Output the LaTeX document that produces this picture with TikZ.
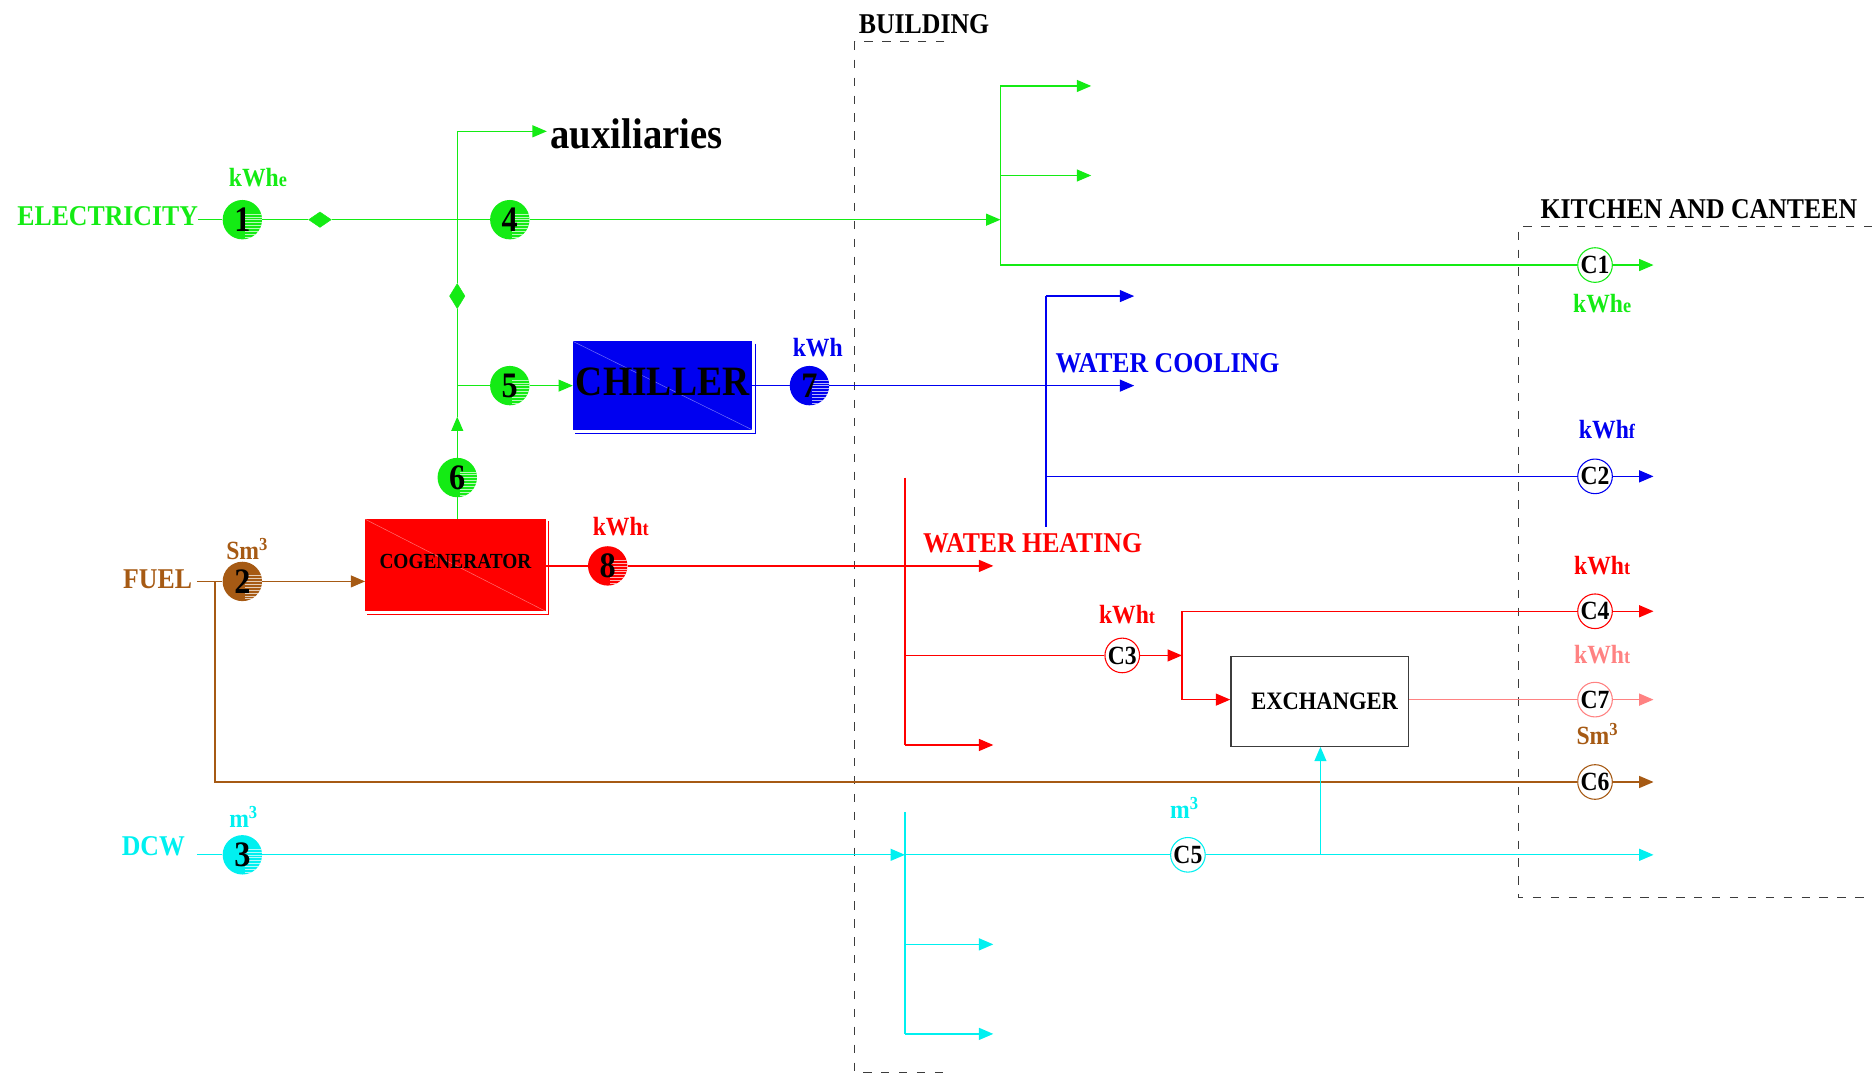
\documentclass[tikz,border=0pt]{standalone}
\usepackage{fontspec}
\setmainfont{Liberation Serif}[FakeStretch=0.9]
\usetikzlibrary{arrows.meta,shapes.geometric,calc}

\definecolor{elgreen}{RGB}{20,235,20}
\definecolor{cwblue}{RGB}{0,0,240}
\definecolor{hwred}{RGB}{255,0,0}
\definecolor{fuelbrown}{RGB}{166,90,20}
\definecolor{dcwcyan}{RGB}{0,240,240}
\definecolor{hwpink}{RGB}{255,130,130}
\definecolor{framegrey}{RGB}{60,60,60}

% smaller suffix of a unit (kWh_e, kWh_t, kWh_f)
\newcommand\usub[1]{{\fontsize{17}{17}\selectfont #1}}

\begin{document}
\begin{tikzpicture}[x=1pt,y=-1pt,
  fs/.style={font=\fontsize{#1}{#1}\selectfont\bfseries},
  flow/.style={line width=1.1pt},
  tip/.style={-{Triangle[length=12pt,width=10pt]}},
  frameline/.style={draw=framegrey,line width=0.9pt,dash pattern=on 7pt off 8pt},
  lab/.style={inner sep=0pt,fs=24},
  unitlab/.style={inner sep=0pt,fs=22},
  numc/.style={circle,minimum size=33pt,inner sep=0pt,fs=30,text=black,
    path picture={\foreach \k in {0,...,9}{
      \draw[white,opacity=0.7,line width=0.4pt]
        ([xshift=2pt,yshift={(2-\k)*2.4pt}]path picture bounding box.center) -- ++(18pt,0);}}},
  cnode/.style={circle,minimum size=29pt,inner sep=0pt,fill=white,line width=0.9pt,fs=22,text=black},
  unitbox/.style={rectangle,inner sep=0pt,text=black,
    path picture={\draw[white,opacity=0.45,line width=0.4pt]
      (path picture bounding box.north west) -- (path picture bounding box.south east);}},
  gdia/.style={diamond,fill=elgreen,draw=elgreen,inner sep=0pt,minimum width=#1}
]
\useasboundingbox (0,0) rectangle (1568,899);

% ---------- building and kitchen outlines ----------
\draw[frameline] (791,35) -- (716,35) -- (716,898) -- (791,898);
\node[lab] (building) at (774,20) {BUILDING};
\draw[frameline] (1568,190) -- (1272,190) -- (1272,752) -- (1568,752);
\node[lab] (kitchen) at (1423,175) {KITCHEN AND CANTEEN};

% ---------- units ----------
\node[unitbox,fill=cwblue,minimum width=150pt,minimum height=74pt,fs=35] (chiller) at (555,323) {\raisebox{6pt}{CHILLER}};
\draw[cwblue,line width=0.8pt] ([xshift=2.5pt,yshift=-2pt]chiller.north east) -- ([xshift=2.5pt,yshift=-2.5pt]chiller.south east) -- ([xshift=2pt,yshift=-2.5pt]chiller.south west);
\node[unitbox,fill=hwred,minimum width=151pt,minimum height=77pt,fs=18] (cogen) at (381.5,473.5) {\raisebox{6pt}{COGENERATOR}};
\draw[hwred,line width=0.8pt] ([xshift=2.5pt,yshift=-2pt]cogen.north east) -- ([xshift=2.5pt,yshift=-2.5pt]cogen.south east) -- ([xshift=2pt,yshift=-2.5pt]cogen.south west);
\node[rectangle,draw=framegrey,fill=white,line width=1.1pt,minimum width=149pt,minimum height=75pt,fs=21] (exch) at (1105.5,587.5) {\hspace*{8pt}EXCHANGER};

% ---------- electricity ----------
\node[lab,text=elgreen,anchor=east] (elec) at (166,181) {ELECTRICITY};
\coordinate (eIn) at (166,184);
\node[numc,fill=elgreen] (n1) at (203,184) {1};
\node[unitlab,text=elgreen] (u1) at (216,149) {kWh\usub{e}};
\node[gdia=19pt,minimum height=13pt] (d1) at (268,184) {};
\coordinate (j1) at (383,184);
\node[numc,fill=elgreen] (n4) at (427,184) {4};
\coordinate (jE) at (838,184);
\draw[flow,elgreen] (eIn) -- (n1) -- (d1) -- (j1) -- (n4);
\draw[flow,elgreen,tip] (n4) -- (jE);

\coordinate (eTop) at (838,72);
\coordinate (eMid) at (838,147);
\coordinate (eBot) at (838,222);
\coordinate (eA1) at (914,72);
\coordinate (eA2) at (914,147);
\draw[flow,elgreen] (eTop) -- (eBot);
\draw[flow,elgreen,tip] (eTop) -- (eA1);
\draw[flow,elgreen,tip] (eMid) -- (eA2);
\node[cnode,draw=elgreen] (c1) at (1336,222) {C1};
\coordinate (c1out) at (1385,222);
\draw[flow,elgreen] (eBot) -- (c1);
\draw[flow,elgreen,tip] (c1) -- (c1out);
\node[unitlab,text=elgreen] (u1k) at (1342,254) {kWh\usub{e}};

% auxiliaries and the cogenerator's electric output
\coordinate (auxC) at (383,110);
\coordinate (auxT) at (458,110);
\node[fs=36,anchor=west,inner sep=0pt] (aux) at (461,112) {auxiliaries};
\node[gdia=13pt,minimum height=21pt] (d2) at (383,248) {};
\coordinate (j5) at (383,323);
\coordinate (upTip) at (383,349);
\node[numc,fill=elgreen] (n6) at (383,400) {6};
\draw[flow,elgreen] (n6 |- cogen.north) -- (n6);
\draw[flow,elgreen,tip] (n6) -- (upTip);
\draw[flow,elgreen] (upTip) -- (j5) -- (d2) -- (j1) -- (auxC);
\draw[flow,elgreen,tip] (auxC) -- (auxT);
\node[numc,fill=elgreen] (n5) at (427,323) {5};
\draw[flow,elgreen] (j5) -- (n5);
\draw[flow,elgreen,tip] (n5) -- (chiller.west);

% ---------- water cooling ----------
\node[numc,fill=cwblue] (n7) at (678,323) {7};
\node[unitlab,text=cwblue] (u7) at (685,291) {kWh};
\coordinate (wc1) at (950,323);
\draw[flow,cwblue] (chiller.east) -- (n7);
\draw[flow,cwblue,tip] (n7) -- (wc1);
\coordinate (vbT) at (876,248);
\coordinate (vbM) at (876,399);
\coordinate (vbB) at (876,441);
\coordinate (wc2) at (950,248);
\draw[flow,cwblue] (vbT) -- (vbB);
\draw[flow,cwblue,tip] (vbT) -- (wc2);
\node[cnode,draw=cwblue] (c2) at (1336,399) {C2};
\coordinate (c2out) at (1385,399);
\draw[flow,cwblue] (vbM) -- (c2);
\draw[flow,cwblue,tip] (c2) -- (c2out);
\node[lab,text=cwblue,anchor=west] (wcool) at (884,304) {WATER COOLING};
\node[unitlab,text=cwblue] (u2) at (1346,360) {kWh\usub{f}};

% ---------- water heating ----------
\node[numc,fill=hwred] (n8) at (509,474) {8};
\node[unitlab,text=hwred] (u8) at (520,441) {kWh\usub{t}};
\coordinate (hw1) at (832,474);
\draw[flow,hwred] (cogen.east |- n8) -- (n8);
\draw[flow,hwred,tip] (n8) -- (hw1);
\coordinate (vrT) at (758,400);
\coordinate (vrM) at (758,549);
\coordinate (vrB) at (758,624);
\coordinate (hw3) at (832,624);
\draw[flow,hwred] (vrT) -- (vrB);
\draw[flow,hwred,tip] (vrB) -- (hw3);
\node[cnode,draw=hwred] (c3) at (940,549) {C3};
\coordinate (jx) at (990,549);
\coordinate (jxT) at (990,512);
\coordinate (jxB) at (990,586);
\draw[flow,hwred] (vrM) -- (c3);
\draw[flow,hwred,tip] (c3) -- (jx);
\draw[flow,hwred] (jxT) -- (jxB);
\node[cnode,draw=hwred] (c4) at (1336,512) {C4};
\coordinate (c4out) at (1385,512);
\draw[flow,hwred] (jxT) -- (c4);
\draw[flow,hwred,tip] (c4) -- (c4out);
\draw[flow,hwred,tip] (jxB) -- (exch.west |- jxB);
\node[lab,text=hwred,anchor=west] (wheat) at (773,455) {WATER HEATING};
\node[unitlab,text=hwred] (u3) at (944,515) {kWh\usub{t}};
\node[unitlab,text=hwred] (u4) at (1342,474) {kWh\usub{t}};

\node[cnode,draw=hwpink] (c7) at (1336,586) {C7};
\coordinate (c7out) at (1385,586);
\draw[flow,hwpink] (exch.east |- c7) -- (c7);
\draw[flow,hwpink,tip] (c7) -- (c7out);
\node[unitlab,text=hwpink] (u7k) at (1342,548) {kWh\usub{t}};

% ---------- fuel ----------
\node[lab,text=fuelbrown,anchor=east] (fuel) at (161,485) {FUEL};
\coordinate (fIn) at (165,487);
\coordinate (fj) at (180,487);
\node[numc,fill=fuelbrown] (n2) at (203,487) {2};
\node[unitlab,text=fuelbrown] (u2s) at (207,460) {Sm\textsuperscript{3}};
\draw[flow,fuelbrown] (fIn) -- (fj) -- (n2);
\draw[flow,fuelbrown,tip] (n2) -- (cogen.west |- n2);
\coordinate (fB) at (180,655);
\node[cnode,draw=fuelbrown] (c6) at (1336,655) {C6};
\coordinate (c6out) at (1385,655);
\draw[flow,fuelbrown] (fj) -- (fB) -- (c6);
\draw[flow,fuelbrown,tip] (c6) -- (c6out);
\node[unitlab,text=fuelbrown] (u6) at (1338,615) {Sm\textsuperscript{3}};

% ---------- domestic cold water ----------
\node[lab,text=dcwcyan,anchor=east] (dcw) at (155,709) {DCW};
\coordinate (dIn) at (165,716);
\node[numc,fill=dcwcyan] (n3) at (203,716) {3};
\node[unitlab,text=dcwcyan] (u3m) at (204,684) {m\textsuperscript{3}};
\coordinate (dj) at (758,716);
\draw[flow,dcwcyan] (dIn) -- (n3);
\draw[flow,dcwcyan,tip] (n3) -- (dj);
\node[cnode,draw=dcwcyan] (c5) at (995,716) {C5};
\node[unitlab,text=dcwcyan] (u5) at (992,677) {m\textsuperscript{3}};
\coordinate (dx) at (1106,716);
\coordinate (dOut) at (1385,716);
\draw[flow,dcwcyan] (dj) -- (c5) -- (dx);
\draw[flow,dcwcyan,tip] (dx) -- (dOut);
\draw[flow,dcwcyan,tip] (dx) -- (exch.south -| dx);
\coordinate (vcT) at (758,680);
\coordinate (vcM) at (758,791);
\coordinate (vcB) at (758,866);
\coordinate (dc1) at (832,791);
\coordinate (dc2) at (832,866);
\draw[flow,dcwcyan] (vcT) -- (vcB);
\draw[flow,dcwcyan,tip] (vcM) -- (dc1);
\draw[flow,dcwcyan,tip] (vcB) -- (dc2);
\end{tikzpicture}
\end{document}
